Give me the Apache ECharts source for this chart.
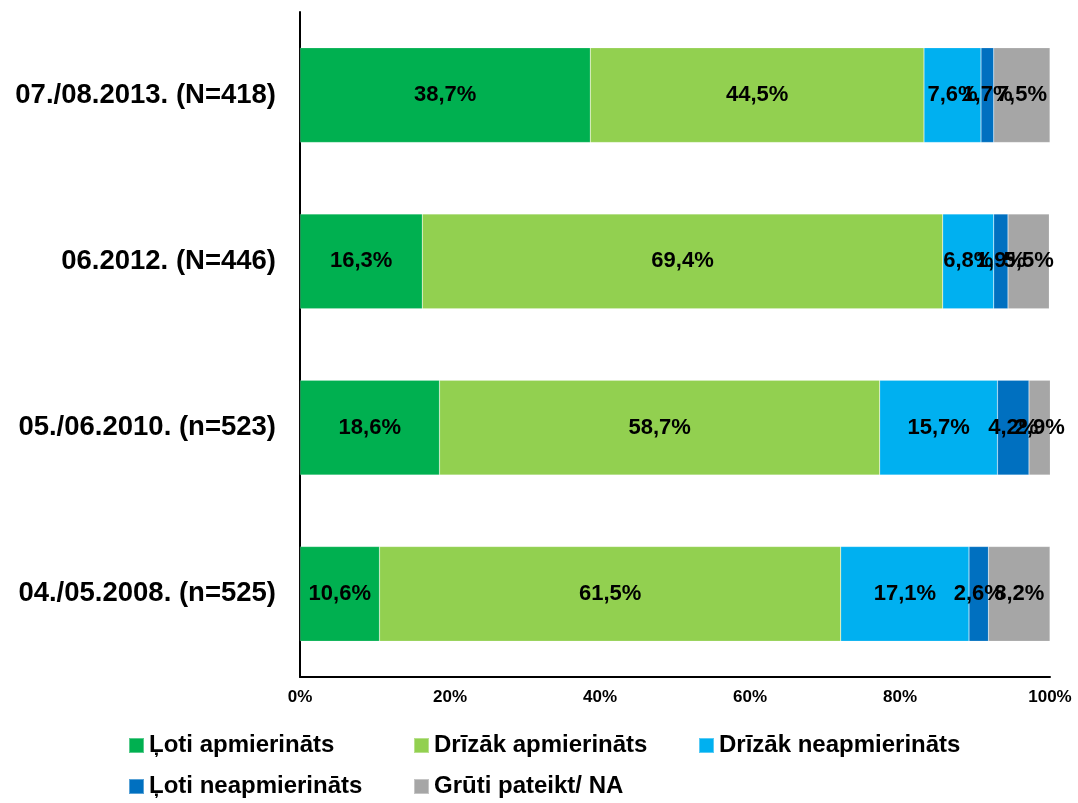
<!DOCTYPE html>
<html>
<head>
<meta charset="utf-8">
<script src="https://cdn.jsdelivr.net/npm/echarts@6/dist/echarts.min.js"></script>
<style>
  html, body { margin: 0; padding: 0; background: #fff; }
</style>
</head>
<body>
<div id="chart" style="width: 1078px; height: 803px;"></div>
<script>
// survey waves, top to bottom
const categories = ['07./08.2013. (N=418)', '06.2012. (N=446)', '05./06.2010. (n=523)', '04./05.2008. (n=525)'];

const lotiApmierinats = [38.7, 16.3, 18.6, 10.6];
const drizakApmierinats = [44.5, 69.4, 58.7, 61.5];
const drizakNeapmierinats = [7.6, 6.8, 15.7, 17.1];
const lotiNeapmierinats = [1.7, 1.9, 4.2, 2.6];
const grutiPateikt = [7.5, 5.5, 2.9, 8.2];

const xTicks = [0, 20, 40, 60, 80, 100];

const seriesDefs = [
  { name: 'Ļoti apmierināts', data: lotiApmierinats, color: '#00B050' },
  { name: 'Drīzāk apmierināts', data: drizakApmierinats, color: '#92D050' },
  { name: 'Drīzāk neapmierināts', data: drizakNeapmierinats, color: '#00B0F0' },
  { name: 'Ļoti neapmierināts', data: lotiNeapmierinats, color: '#0070C0' },
  { name: 'Grūti pateikt/ NA', data: grutiPateikt, color: '#A6A6A6' }
];

const font = '"Liberation Sans", Arial, sans-serif';

const myChart = echarts.init(document.getElementById('chart'));

const option = {
  animation: false,
  textStyle: { fontFamily: font },
  grid: {
    left: 300,
    right: 28,
    top: 12,
    bottom: 126,
    containLabel: false
  },
  legend: {
    data: seriesDefs.map(s => s.name),
    left: 128,
    top: 725,
    padding: 0,
    width: 880,
    itemWidth: 15,
    itemHeight: 15,
    itemGap: 0,
    icon: 'rect',
    textStyle: {
      fontFamily: font,
      fontSize: 24,
      fontWeight: 'bold',
      color: '#000',
      width: 264,
      height: 41,
      lineHeight: 41
    }
  },
  xAxis: {
    type: 'value',
    min: 0,
    max: 100,
    interval: 20,
    splitLine: { show: false },
    axisLine: { show: true, lineStyle: { color: '#000', width: 2 } },
    axisTick: { show: false },
    axisLabel: {
      color: '#000',
      fontSize: 17,
      fontWeight: 'bold',
      margin: 12,
      formatter: v => (xTicks.indexOf(v) >= 0 ? v + '%' : '')
    }
  },
  yAxis: {
    type: 'category',
    data: categories,
    inverse: true,
    axisLine: { show: true, lineStyle: { color: '#000', width: 2 } },
    axisTick: { show: false },
    axisLabel: {
      color: '#000',
      fontSize: 27.5,
      fontWeight: 'bold',
      margin: 24
    }
  },
  series: seriesDefs.map(s => ({
    name: s.name,
    type: 'bar',
    stack: 'total',
    barWidth: '57%',
    data: s.data,
    itemStyle: {
      color: s.color,
      borderColor: 'rgba(255,255,255,0.35)',
      borderWidth: 0.5
    },
    label: {
      show: true,
      position: 'inside',
      color: '#000',
      fontSize: 22,
      fontWeight: 'bold',
      formatter: p => p.value.toFixed(1).replace('.', ',') + '%'
    }
  }))
};

myChart.setOption(option);
</script>
</body>
</html>
